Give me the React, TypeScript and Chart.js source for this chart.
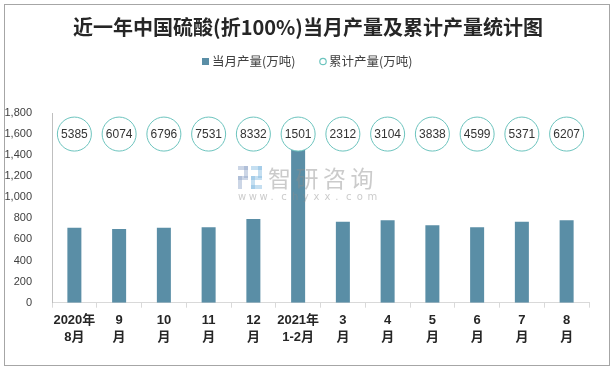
import { useEffect, useRef } from "react";
import { Chart, registerables } from "chart.js";

Chart.register(...registerables);

const chartTitle = "近一年中国硫酸(折100%)当月产量及累计产量统计图";
const categories: string[][] = [
  ["2020年", "8月"],
  ["9", "月"],
  ["10", "月"],
  ["11", "月"],
  ["12", "月"],
  ["2021年", "1-2月"],
  ["3", "月"],
  ["4", "月"],
  ["5", "月"],
  ["6", "月"],
  ["7", "月"],
  ["8", "月"],
];
const monthlyLabel = "当月产量(万吨)";
const cumulativeLabel = "累计产量(万吨)";
const monthlyOutput = [712, 700, 712, 717, 795, 1484, 767, 783, 736, 717, 767, 783];
const cumulativeOutput = [5385, 6074, 6796, 7531, 8332, 1501, 2312, 3104, 3838, 4599, 5371, 6207];
// helper row on which the cumulative bubbles sit (as in the original helper series)
const cumulativeBubbleRow = categories.map(() => 1600);
const yMin = 0;
const yMax = 1800;
const yStep = 200;

const BAR_COLOR = "#5a8ea6";
const BUBBLE_COLOR = "#6cc4be";
const TEXT_COLOR = "#404040";

const decorPlugin = {
  id: "decor",
  beforeDraw(chart: any) {
    const ctx = chart.ctx;
    ctx.save();
    ctx.fillStyle = "#ffffff";
    ctx.fillRect(0, 0, chart.width, chart.height);
    ctx.strokeStyle = "#a6a6a6";
    ctx.lineWidth = 1;
    ctx.strokeRect(4.5, 4.5, 605, 361);
    ctx.restore();
  },
  afterDatasetsDraw(chart: any) {
    const ctx = chart.ctx;
    const meta = chart.getDatasetMeta(1);
    ctx.save();
    ctx.fillStyle = "#333333";
    ctx.font = '12px "Liberation Sans"';
    ctx.textAlign = "center";
    ctx.textBaseline = "middle";
    meta.data.forEach((pt: any, i: number) => {
      ctx.fillText(String(cumulativeOutput[i]), pt.x, pt.y + 0.5);
    });
    ctx.restore();
  },
  afterDraw(chart: any) {
    const ctx = chart.ctx;
    ctx.save();
    // title
    ctx.fillStyle = "#262626";
    ctx.font = 'bold 20px "Noto Sans CJK SC"';
    ctx.textAlign = "center";
    ctx.textBaseline = "middle";
    ctx.fillText(chartTitle, 308, 27);
    // legend
    ctx.font = '12.5px "Noto Sans CJK SC"';
    ctx.textAlign = "left";
    ctx.fillStyle = BAR_COLOR;
    ctx.fillRect(202, 58, 7, 7);
    ctx.fillStyle = TEXT_COLOR;
    ctx.fillText(monthlyLabel, 212, 61.5);
    ctx.beginPath();
    ctx.arc(323, 61.5, 3.2, 0, Math.PI * 2);
    ctx.strokeStyle = BUBBLE_COLOR;
    ctx.lineWidth = 1.2;
    ctx.stroke();
    ctx.fillStyle = TEXT_COLOR;
    ctx.fillText(cumulativeLabel, 329, 61.5);
    // watermark
    ctx.globalAlpha = 0.45;
    ctx.fillStyle = "#8fa3c8";
    ctx.fillRect(238, 166, 10, 4);
    ctx.fillRect(244, 166, 4, 12);
    ctx.fillRect(238, 176, 10, 4);
    ctx.fillRect(238, 176, 4, 13);
    ctx.fillStyle = "#7fb8e0";
    ctx.fillRect(251, 166, 11, 4);
    ctx.fillRect(258, 166, 4, 12);
    ctx.fillRect(251, 176, 11, 4);
    ctx.fillRect(251, 176, 4, 13);
    ctx.fillRect(251, 185, 11, 4);
    ctx.fillStyle = "#8c8c8c";
    ctx.font = '23px "Noto Sans CJK SC"';
    ctx.textBaseline = "middle";
    const wm = "智研咨询";
    for (let i = 0; i < wm.length; i++) {
      ctx.fillText(wm[i], 268 + i * 27.5, 178);
    }
    ctx.font = '10px "DejaVu Sans"';
    const url = "www.chyxx.com";
    for (let i = 0; i < url.length; i++) {
      ctx.fillText(url[i], 238 + i * 10.8, 197);
    }
    ctx.restore();
  },
};

export default function App() {
  const ref = useRef<HTMLCanvasElement | null>(null);
  useEffect(() => {
    if (!ref.current) return;
    const chart = new Chart(ref.current, {
      type: "bar",
      data: {
        labels: categories,
        datasets: [
          {
            type: "bar",
            label: monthlyLabel,
            data: monthlyOutput,
            backgroundColor: BAR_COLOR,
            barPercentage: 0.313,
            categoryPercentage: 1,
            order: 2,
          },
          {
            type: "line",
            label: cumulativeLabel,
            data: cumulativeBubbleRow,
            showLine: false,
            pointRadius: 17,
            pointHoverRadius: 17,
            pointBorderWidth: 1,
            pointBorderColor: BUBBLE_COLOR,
            pointBackgroundColor: "#ffffff",
            order: 1,
          } as any,
        ],
      },
      plugins: [decorPlugin],
      options: {
        animation: false,
        responsive: false,
        devicePixelRatio: 1,
        layout: { padding: { left: 0, right: 26, top: 113, bottom: 0 } },
        plugins: {
          legend: { display: false },
          title: { display: false },
          tooltip: { enabled: false },
        },
        scales: {
          x: {
            offset: true,
            grid: {
              display: true,
              offset: true,
              drawOnChartArea: false,
              drawTicks: true,
              tickLength: 5,
              color: "#d9d9d9",
            },
            border: { display: true, color: "#d9d9d9" },
            ticks: {
              color: "#262626",
              font: { family: '"Liberation Sans", "Noto Sans CJK SC"', size: 13, weight: "bold", lineHeight: 1.3 },
              padding: 4,
              maxRotation: 0,
              autoSkip: false,
            },
            afterFit(scale: any) {
              scale.height = 67.3;
            },
          },
          y: {
            min: yMin,
            max: yMax,
            grid: { display: false },
            border: { display: true, color: "#bfbfbf" },
            ticks: {
              stepSize: yStep,
              color: TEXT_COLOR,
              padding: 12,
              font: { family: '"Liberation Sans"', size: 11 },
              callback: (v: any) => Number(v).toLocaleString("en-US"),
            },
            afterFit(scale: any) {
              scale.width = 52;
            },
          },
        },
      } as any,
    });
    return () => chart.destroy();
  }, []);
  return (
    <div style={{ position: "absolute", left: 0, top: 0, width: 615, height: 370 }}>
      <canvas ref={ref} width={615} height={370} style={{ display: "block", width: 615, height: 370 }} />
    </div>
  );
}
